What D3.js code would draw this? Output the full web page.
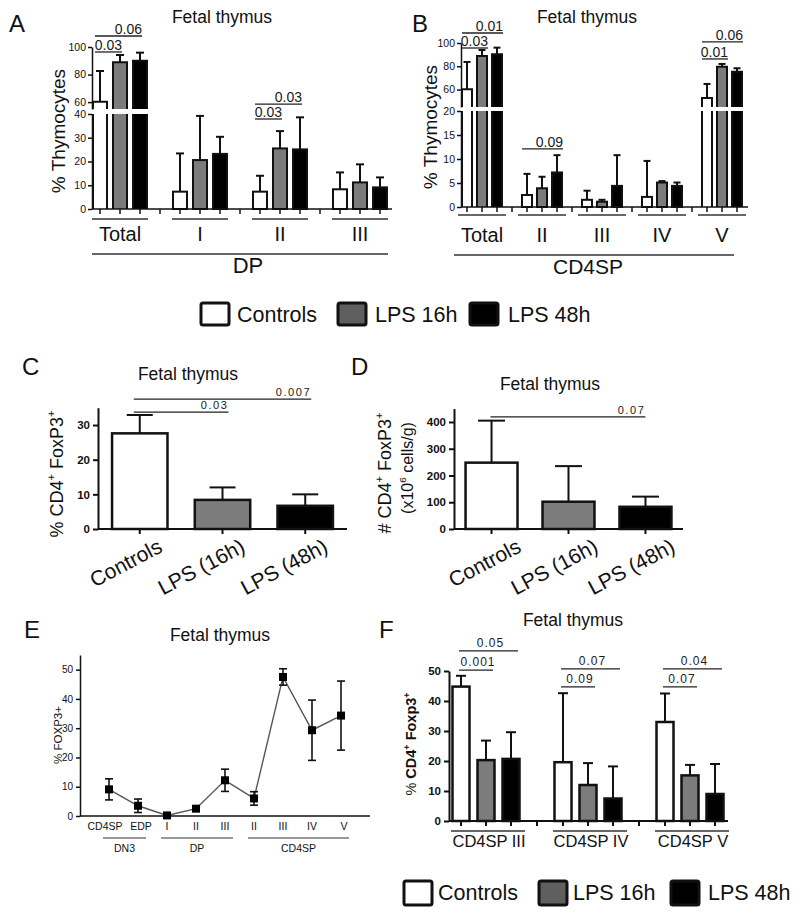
<!DOCTYPE html>
<html><head><meta charset="utf-8">
<script src="https://cdn.jsdelivr.net/npm/d3@7"></script>
<style>body{margin:0;background:#fff}svg{display:block}</style>
</head><body><svg id="fig" width="800" height="916"></svg>
<script>
// ================= DATA =================
const series = ["Controls", "LPS 16h", "LPS 48h"];

// Panel A : DP thymocytes
const aGroups = ["Total", "I", "II", "III"];
const aMeanCtrl = [60.3, 7.3, 7.3, 8.3];
const aMean16 = [88.9, 20.6, 25.5, 11.2];
const aMean48 = [90.1, 23.2, 25.1, 9.1];
const aSdCtrl = [22.3, 16.1, 6.7, 7.1];
const aSd16 = [5.3, 18.6, 7.3, 7.6];
const aSd48 = [5.8, 7.2, 13.5, 4.2];
const aTicksLow = [0, 10, 20, 30, 40];
const aTicksHigh = [60, 80, 100];
const aSigGroup = ["Total", "Total", "II", "II"];
const aSigFrom = ["Controls", "Controls", "Controls", "Controls"];
const aSigTo = ["LPS 16h", "LPS 48h", "LPS 16h", "LPS 48h"];
const aSigAt = [96.4, 108, 37.9, 58.6];
const aSigText = ["0.03", "0.06", "0.03", "0.03"];

// Panel B : CD4SP thymocytes
const bGroups = ["Total", "II", "III", "IV", "V"];
const bMeanCtrl = [60.2, 2.5, 1.5, 2.1, 52.7];
const bMean16 = [88.8, 3.9, 1.1, 5.1, 79.6];
const bMean48 = [90.3, 7.2, 4.4, 4.4, 75.3];
const bSdCtrl = [23.5, 4.4, 1.9, 7.5, 12.1];
const bSd16 = [5.2, 2.4, 0.4, 0.3, 2.4];
const bSd48 = [5.7, 3.6, 6.4, 0.7, 3.0];
const bTicksLow = [0, 5, 10, 15, 20];
const bTicksHigh = [60, 80, 100];
const bSigGroup = ["Total", "Total", "II", "V", "V"];
const bSigFrom = ["Controls", "Controls", "Controls", "Controls", "Controls"];
const bSigTo = ["LPS 16h", "LPS 48h", "LPS 48h", "LPS 16h", "LPS 48h"];
const bSigAt = [95.7, 108.6, 12.1, 86.3, 100.9];
const bSigText = ["0.03", "0.01", "0.09", "0.01", "0.06"];

// Panel C : % CD4+ FoxP3+
const cdCats = ["Controls", "LPS (16h)", "LPS (48h)"];
const cMean = [27.6, 8.4, 6.7];
const cSd = [5.3, 3.6, 3.3];
const cTicks = [0, 10, 20, 30];
const cSigFrom = ["Controls", "Controls"];
const cSigTo = ["LPS (16h)", "LPS (48h)"];
const cSigAt = [33.7, 37.5];
const cSigText = ["0.03", "0.007"];

// Panel D : # CD4+ FoxP3+
const dMean = [248, 102, 83];
const dSd = [157, 133, 38];
const dTicks = [0, 100, 200, 300, 400];
const dSigFrom = ["Controls"];
const dSigTo = ["LPS (48h)"];
const dSigAt = [418.7];
const dSigText = ["0.07"];

// Panel E : % FOXP3+ by stage
const eLabels = ["CD4SP", "EDP", "I", "II", "III", "II", "III", "IV", "V"];
const eMean = [9.1, 3.5, 0.2, 2.5, 12.2, 6.0, 47.5, 29.3, 34.3];
const eSd = [3.6, 2.3, 0, 0.4, 3.8, 2.3, 2.8, 10.3, 11.8];
const eTicks = [0, 10, 20, 30, 40, 50];
const eGroupLabels = ["DN3", "DP", "CD4SP"];
const eGroupStart = [0, 2, 5];
const eGroupEnd = [1, 4, 8];

// Panel F : % CD4+ Foxp3+ in CD4SP subsets
const fGroups = ["CD4SP III", "CD4SP IV", "CD4SP V"];
const fMeanCtrl = [44.8, 19.6, 33.0];
const fMean16 = [20.3, 12.0, 15.2];
const fMean48 = [20.7, 7.5, 9.0];
const fSdCtrl = [3.6, 23.0, 9.5];
const fSd16 = [6.5, 7.3, 3.5];
const fSd48 = [8.9, 10.7, 10.0];
const fTicks = [0, 10, 20, 30, 40, 50];
const fSigGroup = ["CD4SP III", "CD4SP III", "CD4SP IV", "CD4SP IV", "CD4SP V", "CD4SP V"];
const fSigFrom = ["Controls", "Controls", "Controls", "Controls", "Controls", "Controls"];
const fSigTo = ["LPS 16h", "LPS 48h", "LPS 16h", "LPS 48h", "LPS 16h", "LPS 48h"];
const fSigAt = [50.3, 56.7, 44.7, 50.7, 44.7, 50.7];
const fSigText = ["0.001", "0.05", "0.09", "0.07", "0.07", "0.04"];

// ================= DRAWING =================
const svg = d3.select("#fig");
const SANS = '"Liberation Sans", Arial, Helvetica, sans-serif';
const NARROW = '"Liberation Sans Narrow", "Arial Narrow", "Liberation Sans", sans-serif';
const INK = "#111";
const fill = d3.scaleOrdinal().domain(series).range(["#ffffff", "#7c7c7c", "#000000"]);

function txt(g, x, y, s, o = {}) {
  const t = g.append("text").attr("x", x).attr("y", y).text(s)
    .attr("font-family", o.family || SANS).attr("font-size", o.size || 12)
    .attr("text-anchor", o.anchor || "start").attr("fill", o.fill || INK);
  if (o.weight) t.attr("font-weight", o.weight);
  if (o.ls) t.attr("letter-spacing", o.ls);
  if (o.rotate) t.attr("transform", `rotate(${o.rotate},${x},${y})`);
  return t;
}

function rich(g, x, y, parts, o) {
  const t = g.append("text").attr("font-family", o.family || SANS).attr("font-size", o.size)
    .attr("text-anchor", o.anchor || "middle").attr("fill", INK)
    .attr("transform", `translate(${x},${y}) rotate(${o.rotate || 0})`);
  if (o.weight) t.attr("font-weight", o.weight);
  let shift = 0;
  parts.forEach(p => {
    const ts = t.append("tspan").text(p.t);
    const target = p.sup ? -o.size * 0.42 : 0;
    if (target !== shift) { ts.attr("dy", target - shift); shift = target; }
    if (p.sup) ts.attr("font-size", o.size * 0.62);
    if (p.weight) ts.attr("font-weight", p.weight);
  });
  return t;
}

function yAxis(g, scale, ticks, x, o = {}) {
  const ax = d3.axisLeft(scale).tickValues(ticks).tickSize(o.tick || 4).tickSizeOuter(0).tickPadding(o.pad || 2);
  const a = g.append("g").attr("transform", `translate(${x},0)`).call(ax);
  a.attr("font-family", o.family || SANS).attr("font-size", o.size || 10);
  a.select(".domain").attr("stroke", INK).attr("stroke-width", o.sw || 1.5);
  a.selectAll(".tick line").attr("stroke", INK).attr("stroke-width", o.sw || 1.5);
  a.selectAll(".tick text").attr("font-family", o.family || SANS).attr("font-size", o.size || 10)
    .style("font-weight", o.weight || "normal").attr("fill", INK);
  return a;
}

function hline(g, x1, x2, y, sw, col) {
  return g.append("line").attr("x1", x1).attr("x2", x2).attr("y1", y).attr("y2", y)
    .attr("stroke", col || INK).attr("stroke-width", sw || 1.5);
}
function vline(g, x, y1, y2, sw, col) {
  return g.append("line").attr("x1", x).attr("x2", x).attr("y1", y1).attr("y2", y2)
    .attr("stroke", col || INK).attr("stroke-width", sw || 1.5);
}

function groupedBars(o) {
  const g = svg.append("g");
  const gx = d3.scaleBand().domain(o.groups).range(o.xBand);
  const inner = d3.scalePoint().domain(series).range([-o.offset, o.offset]);
  const cx = (grp, s) => gx(grp) + gx.bandwidth() / 2 + inner(s);
  const base = o.yLo.range()[0];
  const loMax = o.yLo.domain()[1];
  const y = v => (o.yHi && v > loMax) ? o.yHi(v) : o.yLo(v);
  // error bars
  series.forEach((s, si) => o.groups.forEach((grp, gi) => {
    const m = o.means[si][gi], e = m + o.sds[si][gi], x = cx(grp, s);
    vline(g, x, y(m), y(e), o.esw);
    hline(g, x - o.capW / 2, x + o.capW / 2, y(e), o.esw);
  }));
  // bars
  series.forEach((s, si) => o.groups.forEach((grp, gi) => {
    const m = o.means[si][gi], x0 = cx(grp, s) - o.barW / 2, x1 = x0 + o.barW;
    const st = p => p.attr("fill", "none").attr("stroke", INK).attr("stroke-width", o.sw).attr("stroke-linejoin", "miter");
    if (o.yHi && m > loMax) {
      const yT = o.yLo.range()[1], yB = o.yHi.range()[0];
      g.append("rect").attr("x", x0).attr("y", yT).attr("width", o.barW).attr("height", base - yT).attr("fill", fill(s));
      st(g.append("path").attr("d", `M${x0},${base}V${yT}M${x1},${base}V${yT}`));
      g.append("rect").attr("x", x0).attr("y", o.yHi(m)).attr("width", o.barW).attr("height", yB - o.yHi(m)).attr("fill", fill(s));
      st(g.append("path").attr("d", `M${x0},${yB}V${o.yHi(m)}H${x1}V${yB}`));
    } else {
      st(g.append("rect").attr("x", x0).attr("y", y(m)).attr("width", o.barW).attr("height", base - y(m))).attr("fill", fill(s));
    }
  }));
  // axes
  yAxis(g, o.yLo, o.ticksLo, o.xAxis[0], o.axisOpt);
  if (o.yHi) yAxis(g, o.yHi, o.ticksHi, o.xAxis[0], o.axisOpt);
  hline(g, o.xAxis[0], o.xAxis[1], base, o.axisOpt.sw);
  o.groups.forEach(grp => series.forEach(s => vline(g, cx(grp, s), base, base + o.tickLen, o.axisOpt.sw)));
  o.groups.slice(1).forEach(grp => vline(g, gx(grp), base, base + o.tickLen, o.axisOpt.sw));
  // group underline + label
  o.groups.forEach(grp => {
    const c = gx(grp) + gx.bandwidth() / 2 + (o.ulShift || 0);
    hline(g, c - o.ulHalf, c + o.ulHalf, o.ulY, 1.4, "#333");
    txt(g, gx(grp) + gx.bandwidth() / 2 + (o.lblShift || 0), o.lblY, grp, { size: o.lblSize, anchor: "middle", family: o.lblFamily });
  });
  return { g, gx, cx, y };
}

function sigLines(g, cx, y, grp, from, to, at, labels, o) {
  labels.forEach((lab, i) => {
    const x1 = cx(grp ? grp[i] : null, from[i]) + o.dx1;
    const x2 = cx(grp ? grp[i] : null, to[i]) + o.dx2;
    const yy = y(at[i]);
    hline(g, x1, x2, yy, o.sw || 1.3, "#222");
    const tx = o.anchor === "middle" ? (x1 + x2) / 2 + (o.tdx || 0) : x2 + (o.tdx || 0);
    txt(g, tx, yy - o.gap, lab, { size: o.size, family: o.family, anchor: o.anchor || "end", ls: o.ls, fill: "#1a1a1a" });
  });
}

// ---------- Panel A ----------
{
  const yLo = d3.scaleLinear().domain([0, 40]).range([209, 114]);
  const yHi = d3.scaleLinear().domain([55, 100]).range([109, 47]);
  const P = groupedBars({
    groups: aGroups, means: [aMeanCtrl, aMean16, aMean48], sds: [aSdCtrl, aSd16, aSd48],
    xBand: [80, 400], offset: 20, barW: 14, yLo, yHi, ticksLo: aTicksLow, ticksHi: aTicksHigh,
    sw: 2, esw: 2, capW: 8, xAxis: [92, 392], tickLen: 5,
    axisOpt: { sw: 1.5, size: 10.5, family: NARROW, tick: 4 },
    ulY: 219, ulHalf: 28, lblY: 241, lblSize: 20
  });
  sigLines(P.g, P.cx, P.y, aSigGroup, aSigFrom, aSigTo, aSigAt, aSigText,
    { dx1: -5, dx2: 2, gap: 2, size: 14, family: NARROW, anchor: "end" });
  hline(P.g, 92, 388, 254, 1.4, "#333");
  txt(P.g, 248, 273, "DP", { size: 22, anchor: "middle" });
  txt(P.g, 222, 23, "Fetal thymus", { size: 17.5, anchor: "middle" });
  txt(P.g, 9, 32, "A", { size: 24 });
  txt(P.g, 65, 131, "% Thymocytes", { size: 19, anchor: "middle", rotate: -90 });
}

// ---------- Panel B ----------
{
  const yLo = d3.scaleLinear().domain([0, 20]).range([207, 111]);
  const yHi = d3.scaleLinear().domain([45, 100]).range([107, 43]);
  const P = groupedBars({
    groups: bGroups, means: [bMeanCtrl, bMean16, bMean48], sds: [bSdCtrl, bSd16, bSd48],
    xBand: [452, 752], offset: 15, barW: 10, yLo, yHi, ticksLo: bTicksLow, ticksHi: bTicksHigh,
    sw: 2, esw: 2, capW: 7, xAxis: [461, 748], tickLen: 5,
    axisOpt: { sw: 1.5, size: 10.5, family: NARROW, tick: 4 },
    ulY: 215, ulHalf: 24, lblY: 242, lblSize: 20
  });
  sigLines(P.g, P.cx, P.y, bSigGroup, bSigFrom, bSigTo, bSigAt, bSigText,
    { dx1: -5, dx2: 6, gap: 2, size: 14, family: NARROW, anchor: "end" });
  hline(P.g, 454, 734, 255, 1.4, "#333");
  txt(P.g, 588, 274, "CD4SP", { size: 21, anchor: "middle" });
  txt(P.g, 587, 23, "Fetal thymus", { size: 17.5, anchor: "middle" });
  txt(P.g, 412, 32, "B", { size: 24 });
  txt(P.g, 437, 127, "% Thymocytes", { size: 19, anchor: "middle", rotate: -90 });
}

// ---------- Legends ----------
function legend(yTop, boxW, boxH, xs, txs, baseY, size) {
  const g = svg.append("g");
  series.forEach((s, i) => {
    g.append("rect").attr("x", xs[i]).attr("y", yTop).attr("width", boxW).attr("height", boxH)
      .attr("rx", 2).attr("fill", s === "LPS 16h" ? "#5f5f5f" : fill(s)).attr("stroke", INK).attr("stroke-width", 3);
    txt(g, txs[i], baseY, s, { size });
  });
}
legend(303, 28, 22, [201, 338, 470], [237, 375, 508], 322, 21.5);
legend(881, 28, 24, [404, 539, 671], [438, 573, 708], 900, 21.5);

// ---------- Panels C & D ----------
function simpleBars(o) {
  const g = svg.append("g");
  const x = d3.scaleBand().domain(cdCats).range(o.xRange).paddingInner(o.pi).paddingOuter(o.po);
  const cx = (_, c) => x(c) + x.bandwidth() / 2;
  const y = d3.scaleLinear().domain(o.domain).range([529, o.top]);
  cdCats.forEach((c, i) => {
    const m = o.mean[i], e = m + o.sd[i], xc = cx(null, c);
    vline(g, xc, y(m), y(e), 2);
    hline(g, xc - o.capW / 2, xc + o.capW / 2, y(e), 2);
  });
  cdCats.forEach((c, i) => {
    g.append("rect").attr("x", x(c)).attr("y", y(o.mean[i])).attr("width", x.bandwidth())
      .attr("height", 529 - y(o.mean[i])).attr("fill", fill(series[i])).attr("stroke", INK).attr("stroke-width", 2.5);
  });
  yAxis(g, y, o.ticks, o.xRange[0], { sw: 2, size: 11.5, weight: "bold", tick: 5, pad: 3 });
  hline(g, o.xRange[0], o.xRange[1], 529, 2);
  cdCats.forEach(c => {
    vline(g, cx(null, c), 529, 534, 2);
    txt(g, cx(null, c) + o.lblDx, 551, c, { size: 21, anchor: "end", rotate: -28 });
  });
  return { g, cx, y };
}
{
  const P = simpleBars({ xRange: [98, 347], pi: 0.33, po: 0.17, domain: [0, 35], top: 407.7,
    mean: cMean, sd: cSd, ticks: cTicks, capW: 26, lblDx: 24 });
  sigLines(P.g, P.cx, P.y, null, cSigFrom, cSigTo, cSigAt, cSigText,
    { dx1: -6, dx2: 6, gap: 3, size: 11, ls: 1.6, anchor: "end", sw: 1.3 });
  txt(P.g, 188, 380, "Fetal thymus", { size: 17.5, anchor: "middle" });
  txt(P.g, 22, 375, "C", { size: 24 });
  rich(P.g, 63, 474, [{ t: "% CD4" }, { t: "+", sup: true }, { t: " FoxP3" }, { t: "+", sup: true }], { size: 18, rotate: -90 });
}
{
  const P = simpleBars({ xRange: [454, 683], pi: 0.325, po: 0.15, domain: [0, 450], top: 408.6,
    mean: dMean, sd: dSd, ticks: dTicks, capW: 27, lblDx: 31 });
  sigLines(P.g, P.cx, P.y, null, dSigFrom, dSigTo, dSigAt, dSigText,
    { dx1: -1, dx2: 0, gap: 3, size: 11, ls: 1.6, anchor: "end", sw: 1.3 });
  txt(P.g, 550, 390, "Fetal thymus", { size: 17.5, anchor: "middle" });
  txt(P.g, 351, 375, "D", { size: 24 });
  rich(P.g, 391, 473, [{ t: "# CD4" }, { t: "+", sup: true }, { t: " FoxP3" }, { t: "+", sup: true }], { size: 18, rotate: -90 });
  rich(P.g, 413, 468, [{ t: "(x10" }, { t: "6", sup: true }, { t: " cells/g)" }], { size: 16, rotate: -90 });
}

// ---------- Panel E ----------
{
  const g = svg.append("g");
  const idx = eLabels.map((_, i) => i);
  const x = d3.scalePoint().domain(idx).range([109, 341]);
  const y = d3.scaleLinear().domain([0, 55]).range([816, 655]);
  const labelNudge = [-4, 3, 0, 0, 0, 0, 0, 0, 3];
  yAxis(g, y, eTicks, 80, { sw: 1.5, size: 10, tick: 4, pad: 3 });
  hline(g, 80, 370, 816, 1.5);
  const line = d3.line().x(i => x(i)).y(i => y(eMean[i]));
  g.append("path").attr("d", line(idx)).attr("fill", "none").attr("stroke", "#555").attr("stroke-width", 1.4);
  idx.forEach(i => {
    if (eSd[i] > 0) {
      vline(g, x(i), y(eMean[i] - eSd[i]), y(eMean[i] + eSd[i]), 1.6);
      hline(g, x(i) - 4, x(i) + 4, y(eMean[i] - eSd[i]), 1.6);
      hline(g, x(i) - 4, x(i) + 4, y(eMean[i] + eSd[i]), 1.6);
    }
    g.append("rect").attr("x", x(i) - 4).attr("y", y(eMean[i]) - 4).attr("width", 8).attr("height", 8).attr("fill", "#000");
    txt(g, x(i) + labelNudge[i], 830, eLabels[i], { size: 10.5, anchor: "middle" });
  });
  eGroupLabels.forEach((lab, k) => {
    const x1 = x(eGroupStart[k]) - 6, x2 = x(eGroupEnd[k]) + 8;
    hline(g, x1, x2, 838, 1.2, "#333");
    txt(g, (x1 + x2) / 2, 852, lab, { size: 10.5, anchor: "middle" });
  });
  txt(g, 220, 641, "Fetal thymus", { size: 17.5, anchor: "middle" });
  txt(g, 24, 638, "E", { size: 24 });
  txt(g, 62, 735, "% FOXP3+", { size: 11.5, anchor: "middle", rotate: -90 });
}

// ---------- Panel F ----------
{
  const yLo = d3.scaleLinear().domain([0, 50]).range([821, 671]);
  const P = groupedBars({
    groups: fGroups, means: [fMeanCtrl, fMean16, fMean48], sds: [fSdCtrl, fSd16, fSd48],
    xBand: [435, 741], offset: 25, barW: 17, yLo, yHi: null, ticksLo: fTicks,
    sw: 2.5, esw: 2, capW: 10, xAxis: [449, 728], tickLen: 5,
    axisOpt: { sw: 2, size: 11.5, weight: "bold", tick: 5, pad: 3 },
    ulY: 831, ulHalf: 37, ulShift: 2, lblY: 847, lblSize: 16.5, lblShift: 3
  });
  sigLines(P.g, P.cx, P.y, fSigGroup, fSigFrom, fSigTo, fSigAt, fSigText,
    { dx1: -2, dx2: 7, gap: 4, size: 12, ls: 1, anchor: "middle", tdx: 2, sw: 1.3 });
  txt(P.g, 573, 626, "Fetal thymus", { size: 17.5, anchor: "middle" });
  txt(P.g, 379, 638, "F", { size: 24 });
  rich(P.g, 416, 744, [{ t: "% " }, { t: "CD4", weight: "bold" }, { t: "+", sup: true, weight: "bold" }, { t: " Foxp3", weight: "bold" }, { t: "+", sup: true, weight: "bold" }], { size: 14.5, rotate: -90 });
}
</script></body></html>
